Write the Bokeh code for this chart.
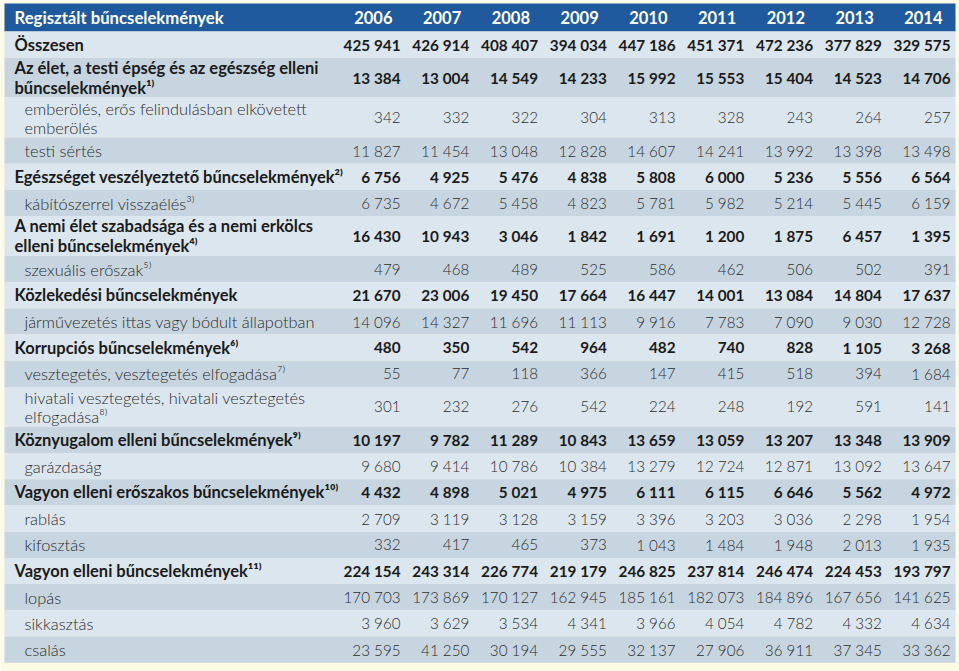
from bokeh.plotting import figure
from bokeh.models import ColumnDataSource, Range1d
from bokeh.core.properties import value
from bokeh.embed import file_html
from bokeh.resources import INLINE

title = "Regisztált bűncselekmények"
years = ["2006", "2007", "2008", "2009", "2010", "2011", "2012", "2013", "2014"]

row_labels = [
    "Összesen",
    "Az élet, a testi épség és az egészség elleni\nbűncselekmények¹⁾",
    "emberölés, erős felindulásban elkövetett\nemberölés",
    "testi sértés",
    "Egészséget veszélyeztető bűncselekmények²⁾",
    "kábítószerrel visszaélés³⁾",
    "A nemi élet szabadsága és a nemi erkölcs\nelleni bűncselekmények⁴⁾",
    "szexuális erőszak⁵⁾",
    "Közlekedési bűncselekmények",
    "járművezetés ittas vagy bódult állapotban",
    "Korrupciós bűncselekmények⁶⁾",
    "vesztegetés, vesztegetés elfogadása⁷⁾",
    "hivatali vesztegetés, hivatali vesztegetés\nelfogadása⁸⁾",
    "Köznyugalom elleni bűncselekmények⁹⁾",
    "garázdaság",
    "Vagyon elleni erőszakos bűncselekmények¹⁰⁾",
    "rablás",
    "kifosztás",
    "Vagyon elleni bűncselekmények¹¹⁾",
    "lopás",
    "sikkasztás",
    "csalás",
]
row_main = [True, True, False, False, True, False, True, False, True, False, True,
            False, False, True, False, True, False, False, True, False, False, False]

v2006 = [425941, 13384, 342, 11827, 6756, 6735, 16430, 479, 21670, 14096, 480, 55, 301,
         10197, 9680, 4432, 2709, 332, 224154, 170703, 3960, 23595]
v2007 = [426914, 13004, 332, 11454, 4925, 4672, 10943, 468, 23006, 14327, 350, 77, 232,
         9782, 9414, 4898, 3119, 417, 243314, 173869, 3629, 41250]
v2008 = [408407, 14549, 322, 13048, 5476, 5458, 3046, 489, 19450, 11696, 542, 118, 276,
         11289, 10786, 5021, 3128, 465, 226774, 170127, 3534, 30194]
v2009 = [394034, 14233, 304, 12828, 4838, 4823, 1842, 525, 17664, 11113, 964, 366, 542,
         10843, 10384, 4975, 3159, 373, 219179, 162945, 4341, 29555]
v2010 = [447186, 15992, 313, 14607, 5808, 5781, 1691, 586, 16447, 9916, 482, 147, 224,
         13659, 13279, 6111, 3396, 1043, 246825, 185161, 3966, 32137]
v2011 = [451371, 15553, 328, 14241, 6000, 5982, 1200, 462, 14001, 7783, 740, 415, 248,
         13059, 12724, 6115, 3203, 1484, 237814, 182073, 4054, 27906]
v2012 = [472236, 15404, 243, 13992, 5236, 5214, 1875, 506, 13084, 7090, 828, 518, 192,
         13207, 12871, 6646, 3036, 1948, 246474, 184896, 4782, 36911]
v2013 = [377829, 14523, 264, 13398, 5556, 5445, 6457, 502, 14804, 9030, 1105, 394, 591,
         13348, 13092, 5562, 2298, 2013, 224453, 167656, 4332, 37345]
v2014 = [329575, 14706, 257, 13498, 6564, 6159, 1395, 391, 17637, 12728, 3268, 1684, 141,
         13909, 13647, 4972, 1954, 1935, 193797, 141625, 4634, 33362]

columns = [v2006, v2007, v2008, v2009, v2010, v2011, v2012, v2013, v2014]

# ---- layout (pixels) ----
W, H = 959, 671
TABLE_L, TABLE_R = 4, 955
HEAD_TOP, HEAD_BOT = 3, 31
SINGLE_H, DOUBLE_H = 26.2, 39.9
COL0, COL_STEP = 400, 68.75
LABEL_X_MAIN, LABEL_X_SUB = 14, 24

BG = "#fdfbe4"
HEAD_BLUE = "#1f5a9f"
ROW_LIGHT = "#dce6ee"
ROW_DARK = "#c7d5e0"
DARK_TXT = "#1b1b1b"
GREY_TXT = "#2c2c2c"

p = figure(width=W, height=H, x_range=Range1d(0, W), y_range=Range1d(H, 0),
           output_backend="svg", toolbar_location=None, min_border=0)
p.axis.visible = False
p.grid.visible = False
p.outline_line_color = None
p.background_fill_color = BG
p.border_fill_color = BG

heights = [DOUBLE_H if "\n" in lbl else SINGLE_H for lbl in row_labels]
tops, centers = [], []
y = HEAD_BOT
for h in heights:
    tops.append(y)
    centers.append(y + h / 2)
    y += h
bottoms = [t + h for t, h in zip(tops, heights)]
fills = [ROW_LIGHT if i % 2 == 0 else ROW_DARK for i in range(len(row_labels))]

p.quad(left=[TABLE_L], right=[TABLE_R], top=[HEAD_TOP], bottom=[HEAD_BOT],
       fill_color=HEAD_BLUE, line_color=None)
p.quad(left=[TABLE_L] * len(tops), right=[TABLE_R] * len(tops), top=tops, bottom=bottoms,
       fill_color=fills, line_color=None)

col_x = [COL0 + COL_STEP * j for j in range(len(years))]
head_y = (HEAD_TOP + HEAD_BOT) / 2

# header
p.text(x=[LABEL_X_MAIN], y=[head_y], text=[title], text_font=value("Lato"),
       text_font_style="bold", text_font_size="16.7px", text_color="white",
       text_baseline="middle", text_align="left")
p.text(x=[cx - 8 for cx in col_x], y=[head_y] * len(years), text=years,
       text_font=value("Lato"), text_font_style="bold", text_font_size="16.5px",
       text_color="white", text_baseline="middle", text_align="right")

# row labels
main_idx = [i for i, m in enumerate(row_main) if m]
sub_idx = [i for i, m in enumerate(row_main) if not m]

src_lab_main = ColumnDataSource(dict(x=[LABEL_X_MAIN] * len(main_idx),
                                     y=[centers[i] for i in main_idx],
                                     t=[row_labels[i] for i in main_idx]))
src_lab_sub = ColumnDataSource(dict(x=[LABEL_X_SUB] * len(sub_idx),
                                    y=[centers[i] for i in sub_idx],
                                    t=[row_labels[i] for i in sub_idx]))
p.text(x="x", y="y", text="t", source=src_lab_main, text_font=value("Lato"),
       text_font_style="bold", text_font_size="16.5px", text_color=DARK_TXT,
       text_baseline="middle", text_align="left", text_line_height=1.0)
p.text(x="x", y="y", text="t", source=src_lab_sub, text_font=value("Lato Light"),
       text_font_size="16.4px", text_color=GREY_TXT,
       text_baseline="middle", text_align="left", text_line_height=1.0)


def fmt(v):
    return f"{v:,}".replace(",", " ")


mx, my, mt, sx, sy, st = [], [], [], [], [], []
for j, col in enumerate(columns):
    for i, v in enumerate(col):
        if row_main[i]:
            mx.append(col_x[j]); my.append(centers[i]); mt.append(fmt(v))
        else:
            sx.append(col_x[j]); sy.append(centers[i]); st.append(fmt(v))

p.text(x=mx, y=my, text=mt, text_font=value("Lato"), text_font_style="bold",
       text_font_size="15.3px", text_color=DARK_TXT, text_baseline="middle",
       text_align="right")
p.text(x=sx, y=sy, text=st, text_font=value("Lato Light"),
       text_font_size="15.2px", text_color=GREY_TXT, text_baseline="middle",
       text_align="right")

open("out.html", "w").write(file_html(p, INLINE))
